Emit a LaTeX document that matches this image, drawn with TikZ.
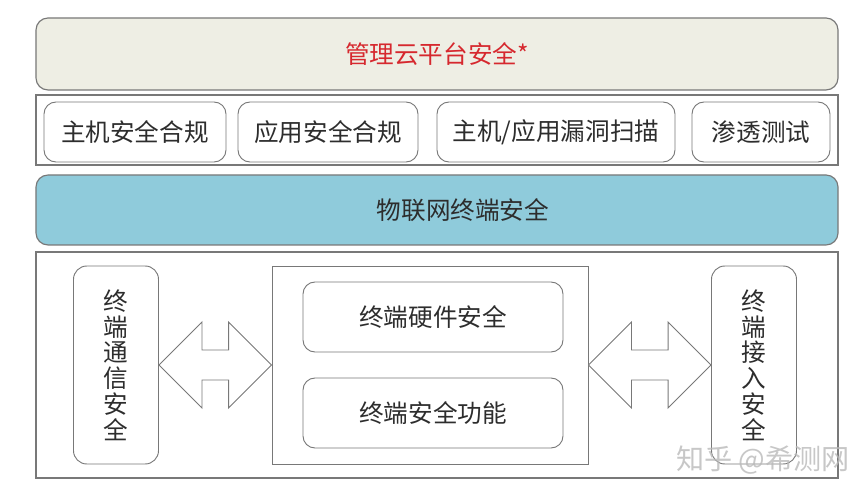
\documentclass[tikz,border=0pt]{standalone}
\usepackage{fontspec}
\setmainfont{Noto Sans CJK SC}
\usetikzlibrary{calc,positioning}
\definecolor{cloudfill}{RGB}{238,238,228}
\definecolor{iotfill}{RGB}{143,203,219}
\definecolor{titlered}{RGB}{214,40,46}
\definecolor{boxline}{RGB}{120,120,120}
\definecolor{txt}{RGB}{45,45,45}

\begin{document}
\begin{tikzpicture}[
      x=0.3mm, y=-0.3mm,
      font=\fontsize{21}{22}\selectfont, text=txt,
      band/.style={draw=boxline, line width=1pt, rounded corners=3.6mm,
                   minimum width=240.6mm, minimum height=21.6mm},
      frame/.style={draw=boxline, line width=1pt, minimum width=240.6mm},
      item/.style={draw=boxline, line width=0.8pt, rounded corners=3.6mm,
                   fill=white, minimum height=18mm},
      vbox/.style={draw=boxline, line width=0.8pt, rounded corners=4mm,
                   align=center, minimum width=25.5mm, minimum height=59.4mm},
      bigarrow/.style={draw=boxline, line width=0.8pt, fill=white},
    ]
    \useasboundingbox (0,0) rectangle (865,499);

    % management cloud (top)
    \node[band, fill=cloudfill, text=titlered] (cloud) at (437,54) {管理云平台安全*};

    % compliance / scanning row
    \node[frame, minimum height=21mm] (apps) at (437,130) {};
    \node[item, minimum width=54.6mm] (host) at (135,132) {主机安全合规};
    \node[item, minimum width=54mm] (app) at (328,132) {应用安全合规};
    \node[item, minimum width=71.4mm] (scan) at (556,132) {主机/应用漏洞扫描};
    \node[item, minimum width=41.4mm] (pen) at (761,132) {渗透测试};

    % IoT terminal band
    \node[band, fill=iotfill, minimum height=21mm,
          label={[xshift=7.8mm, text=txt]center:物联网终端安全}] (iot) at (437,210) {};

    % terminal layer (bottom)
    \node[frame, minimum height=67.8mm] (term) at (437,365) {};
    \node[vbox] (comm) at (116,365) {终\\端\\通\\信\\安\\全};
    \node[draw=boxline, line width=0.8pt, minimum width=94.8mm,
          minimum height=59.4mm] (core) at (430,365) {};
    \node[item, minimum width=78mm, minimum height=21mm] (hw) at (433,317) {终端硬件安全};
    \node[item, minimum width=78mm, minimum height=21mm] (func) at (433,413) {终端安全功能};
    \node[vbox] (access) at (754,365) {终\\端\\接\\入\\安\\全};

    % double arrows
    \draw[bigarrow] (comm.east) -- ++(43,-43) -- ++(0,28)
      -- ($(core.west)+(-43,-15)$) -- ++(0,-28) -- (core.west)
      -- ++(-43,43) -- ++(0,-28) -- ($(comm.east)+(43,15)$) -- ++(0,28) -- cycle;
    \draw[bigarrow] (core.east) -- ++(43,-43) -- ++(0,28)
      -- ($(access.west)+(-43,-15)$) -- ++(0,-28) -- (access.west)
      -- ++(-43,43) -- ++(0,-28) -- ($(core.east)+(43,15)$) -- ++(0,28) -- cycle;

    % watermark
    \node[text=gray!55, opacity=0.8, font=\fontsize{24}{24}\selectfont] (mark) at (763,460) {知乎 @希测网};
  \end{tikzpicture}
\end{document}
